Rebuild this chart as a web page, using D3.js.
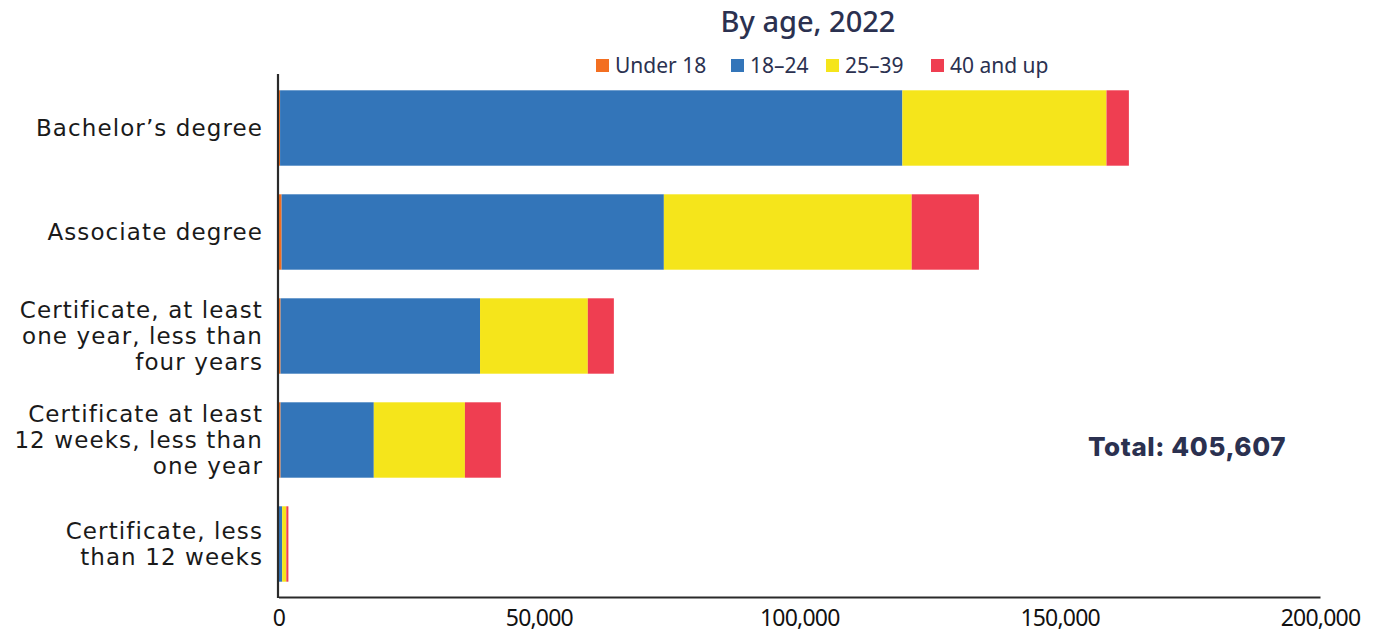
<!DOCTYPE html>
<html>
<head>
<meta charset="utf-8">
<script src="https://cdn.jsdelivr.net/npm/d3@7"></script>
<style>
  html, body { margin: 0; padding: 0; background: #fff; }
  svg { display: block; }
</style>
</head>
<body>
<svg id="chart" width="1386" height="635"></svg>
<script>
// Credentials awarded, by age group, 2022
const categories = [
  "Bachelor’s degree",
  "Associate degree",
  "Certificate, at least one year, less than four years",
  "Certificate at least 12 weeks, less than one year",
  "Certificate, less than 12 weeks"
];
const categoryLines = [
  ["Bachelor’s degree"],
  ["Associate degree"],
  ["Certificate, at least", "one year, less than", "four years"],
  ["Certificate at least", "12 weeks, less than", "one year"],
  ["Certificate, less", "than 12 weeks"]
];
const seriesNames = ["Under 18", "18–24", "25–39", "40 and up"];
const under18 = [300, 600, 400, 400, 50];
const age18to24 = [119500, 73400, 38300, 17900, 650];
const age25to39 = [39200, 47600, 20700, 17500, 800];
const age40up = [4300, 12900, 5000, 6900, 400];
const xTicks = [0, 50000, 100000, 150000, 200000];
const totalLabel = "Total: 405,607";
const titleText = "By age, 2022";

const colors = ["#f36f21", "#3375b9", "#f5e51b", "#ef3e51"];
const navy = "#2b3150";

const svg = d3.select("#chart");
const margin = { left: 278.5, right: 1320, top: 76, bottom: 596 };

const rows = categories.map((c, i) => ({
  cat: c,
  "Under 18": under18[i],
  "18–24": age18to24[i],
  "25–39": age25to39[i],
  "40 and up": age40up[i]
}));

const x = d3.scaleLinear().domain([0, 200000]).range([margin.left, margin.right]);
const y = d3.scaleBand().domain(categories).range([margin.top, margin.bottom]).paddingInner(0.275).paddingOuter(0.1375);

const layers = d3.stack().keys(seriesNames)(rows);

// Stacked bars
svg.append("g").selectAll("g")
  .data(layers)
  .join("g")
  .attr("fill", (d, i) => colors[i])
  .selectAll("rect")
  .data(d => d.map(v => ({ v, cat: v.data.cat })))
  .join("rect")
  .attr("x", d => x(d.v[0]))
  .attr("y", d => y(d.cat))
  .attr("width", d => Math.max(0, x(d.v[1]) - x(d.v[0])))
  .attr("height", y.bandwidth());

// Axes
const xAxis = d3.axisBottom(x).tickValues(xTicks).tickFormat(d3.format(",")).tickSize(0).tickPadding(13);
const gx = svg.append("g").attr("transform", `translate(0,${margin.bottom + 1})`).call(xAxis);
gx.select(".domain").attr("stroke", "#2a2a2a").attr("stroke-width", 2.2);
gx.selectAll("text")
  .attr("font-family", "'Noto Sans', sans-serif")
  .attr("font-size", 23)
  .attr("letter-spacing", -0.8)
  .attr("fill", "#111");

svg.append("line")
  .attr("x1", margin.left - 0.5).attr("x2", margin.left - 0.5)
  .attr("y1", 74).attr("y2", margin.bottom + 2)
  .attr("stroke", "#2a2a2a").attr("stroke-width", 2.2);

// Category labels, one text per line, right-aligned against the axis
const labelG = svg.append("g")
  .attr("font-family", "'DejaVu Sans', sans-serif")
  .attr("font-size", 23)
  .attr("letter-spacing", 1.1)
  .attr("fill", "#1a1a1a")
  .attr("text-anchor", "end");
const lineHeight = 26.3;
categories.forEach((c, i) => {
  const lines = categoryLines[i];
  const cy = y(c) + y.bandwidth() / 2;
  lines.forEach((ln, j) => {
    labelG.append("text")
      .attr("x", 263)
      .attr("y", cy + (j - (lines.length - 1) / 2) * lineHeight + 8)
      .text(ln);
  });
});

// Title
svg.append("text")
  .attr("x", 808).attr("y", 32)
  .attr("text-anchor", "middle")
  .attr("font-family", "'Noto Sans', sans-serif")
  .attr("font-size", 29)
  .attr("font-weight", 500)
  .attr("fill", navy)
  .text(titleText);

// Legend
const legendX = [596, 731, 826, 931];
const legend = svg.append("g")
  .attr("font-family", "'Noto Sans', sans-serif")
  .attr("font-size", 21)
  .attr("fill", navy);
seriesNames.forEach((s, i) => {
  legend.append("rect")
    .attr("x", legendX[i]).attr("y", 59)
    .attr("width", 13).attr("height", 13)
    .attr("fill", colors[i]);
  legend.append("text")
    .attr("x", legendX[i] + 19).attr("y", 73)
    .text(s);
});

// Total annotation
svg.append("text")
  .attr("x", 1187).attr("y", 456)
  .attr("text-anchor", "middle")
  .attr("font-family", "'Inter', 'Lato', sans-serif")
  .attr("font-size", 26)
  .attr("font-weight", 800)
  .attr("letter-spacing", 0.6)
  .attr("fill", navy)
  .text(totalLabel);
</script>
</body>
</html>
